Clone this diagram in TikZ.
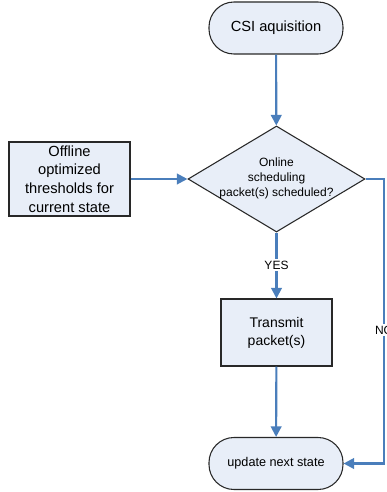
\documentclass[tikz,border=0pt]{standalone}
\usepackage{fontspec}
\setmainfont{Liberation Sans}
\usetikzlibrary{shapes.geometric,arrows.meta}
\definecolor{boxfill}{RGB}{232,238,248}
\definecolor{boxline}{RGB}{40,40,40}
\definecolor{flow}{RGB}{74,126,187}
\tikzset{
  base/.style={draw=boxline, fill=boxfill, line width=0.8pt, align=center, inner sep=0pt},
  terminal/.style={base, rectangle, rounded corners={25*0.75pt}, minimum width={134*0.75pt}, minimum height={52*0.75pt}},
  procbox/.style={base, rectangle},
  decision/.style={base, diamond, minimum width={177*0.75pt}, minimum height={106*0.75pt}},
  flowline/.style={draw=flow, line width=1.6pt, -{Triangle[length=8pt,width=8pt]}},
  lbl/.style={fill=white, inner sep=1pt, font=\fontsize{9}{10}\selectfont}
}
\begin{document}
\begin{tikzpicture}[x=0.75pt,y=-0.75pt]
\useasboundingbox (0,0) rectangle (386,492);
\node[terminal, font=\fontsize{11}{13}\selectfont] (csi) at (276,28) {CSI aquisition};
\node[decision] (dec) at (276.5,179) {\makebox[0pt]{\smash{\raisebox{-2pt}{\fontsize{9}{11.3}\selectfont\begin{tabular}{@{}c@{}}Online\\scheduling\\packet(s) scheduled?\end{tabular}}}}};
\node[procbox, minimum width={121*0.75pt}, minimum height={74*0.75pt}, font=\fontsize{11}{13.9}\selectfont] (off) at (69.5,179) {Offline\\optimized\\thresholds for\\current state};
\node[procbox, minimum width={111*0.75pt}, minimum height={67*0.75pt}, font=\fontsize{10.5}{13.5}\selectfont] (tx) at (276.5,332.5) {Transmit\\packet(s)};
\node[terminal, font=\fontsize{9.5}{11}\selectfont] (upd) at (276,463.5) {update next state};
\coordinate (nox) at (384,0);
\draw[flowline] (csi) -- (dec);
\draw[flowline] (off) -- (dec);
\draw[flowline] (dec.south) -- (tx.north);
\node[lbl] (yes) at (276.5,265) {YES};
\draw[flowline] (tx) -- (upd);
\draw[flowline] (dec.east) -| (nox |- upd.east) -- (upd.east);
\node[lbl] (no) at (384,330) {NO};
\end{tikzpicture}
\end{document}
